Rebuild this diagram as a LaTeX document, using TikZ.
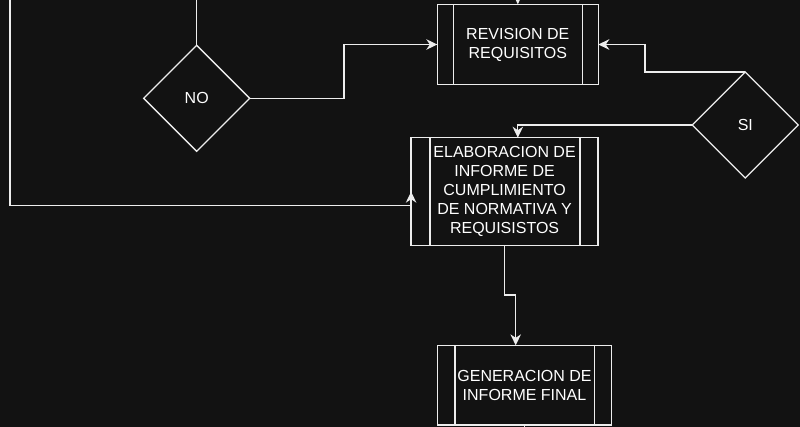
\documentclass[tikz,border=0pt]{standalone}
\usepackage{fontspec}
\setmainfont{Liberation Sans}
\usetikzlibrary{shapes.geometric,arrows.meta,calc}
\definecolor{bg}{HTML}{121212}
\definecolor{fg}{HTML}{EDEDED}
\begin{document}
\begin{tikzpicture}[x=1pt,y=-1pt,
  proc/.style={draw=fg, fill=bg, line width=1.3pt, text=white, align=center,
    font=\fontsize{16}{19}\selectfont, inner sep=0pt, outer sep=0pt},
  dec/.style={diamond, aspect=1, draw=fg, fill=bg, line width=1.3pt, text=white,
    font=\fontsize{16}{19}\selectfont, minimum width=106pt, minimum height=106pt,
    inner sep=0pt, outer sep=0pt},
  conn/.style={draw=fg, line width=1.3pt},
  arr/.style={conn, -{Stealth[length=11pt,width=10.5pt,inset=3.5pt]}}]
\fill[bg] (0,0) rectangle (800,427);
\useasboundingbox (0,0) rectangle (800,427);
\clip (0,0) rectangle (800,427);

% process boxes
\node[proc, minimum width=161pt, minimum height=80.5pt] (rev) at (517.8,44.5) {REVISION DE\\REQUISITOS};
\draw[conn] ([xshift=16pt]rev.north west) -- ([xshift=16pt]rev.south west);
\draw[conn] ([xshift=-16pt]rev.north east) -- ([xshift=-16pt]rev.south east);

\node[proc, minimum width=187pt, minimum height=108pt] (elab) at (504.6,191.7)
  {ELABORACION DE\\INFORME DE\\CUMPLIMIENTO\\DE NORMATIVA Y\\REQUISISTOS};
\draw[conn] ([xshift=19pt]elab.north west) -- ([xshift=19pt]elab.south west);
\draw[conn] ([xshift=-18pt]elab.north east) -- ([xshift=-18pt]elab.south east);

\node[proc, minimum width=174.4pt, minimum height=79.7pt] (gen) at (524.5,385.2) {GENERACION DE\\INFORME FINAL};
\draw[conn] ([xshift=17.7pt]gen.north west) -- ([xshift=17.7pt]gen.south west);
\draw[conn] ([xshift=-17.4pt]gen.north east) -- ([xshift=-17.4pt]gen.south east);

% decisions
\node[dec] (no) at (196.7,98.3) {NO};
\node[dec] (si) at (745.3,125) {SI};

% helper coordinates
\coordinate (notop) at (196.7,-5);
\coordinate (ltop) at (10,-5);
\coordinate (revtop) at (517.8,-20);
\coordinate (nobend) at (344,0);
\coordinate (sibend) at (645,0);
\coordinate (genbend) at (515.7,295);

% connectors
\draw[arr] (revtop) -- (rev.north);
\draw[conn] (no.north) -- (notop);
\draw[arr] (no.east) -- (no.east -| nobend) |- (rev.west);
\draw[arr] (ltop) |- ($(elab.west)+(0,13.5)$) -- (elab.west);
\draw[arr] (si.north) -- (si.north -| sibend) |- (rev.east);
\draw[arr] (si.west) -| (elab.north -| rev.north);
\draw[arr] (elab.south) |- (genbend) -- (gen.north -| genbend);
\draw[conn] (gen.south) -- ++(0,10);
\end{tikzpicture}
\end{document}
